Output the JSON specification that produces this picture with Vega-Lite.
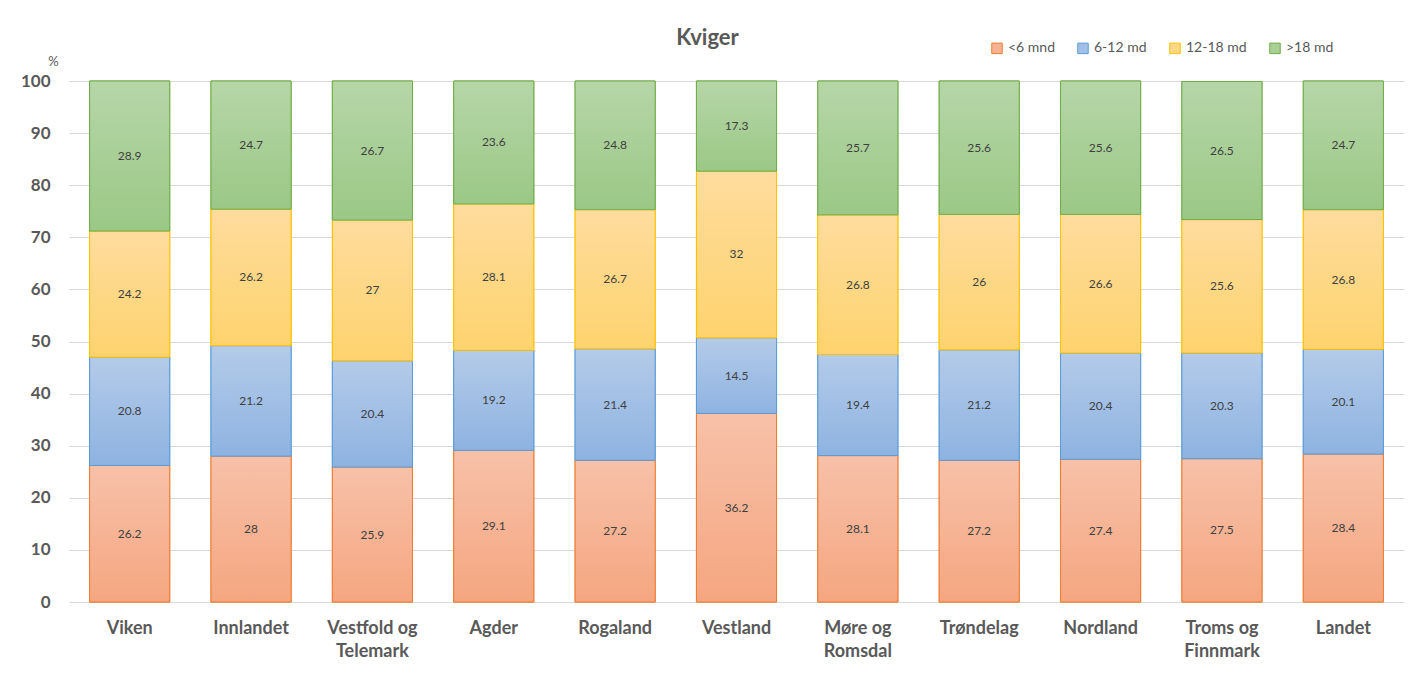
{
  "$schema": "https://vega.github.io/schema/vega-lite/v6.json",
  "width": 1335,
  "height": 521,
  "autosize": {"type": "none"},
  "padding": {"left": 69, "top": 81, "right": 13, "bottom": 71},
  "background": "white",
  "config": {
    "view": {"stroke": null},
    "font": "Lato"
  },
  "title": {
    "text": "Kviger",
    "fontSize": 22,
    "font": "Lato",
    "fontWeight": "bold",
    "color": "#595959",
    "anchor": "middle",
    "dx": -29,
    "offset": -9
  },
  "data": {
    "values": [
      {"region": "Viken", "group": "<6 mnd", "value": 26.2},
      {"region": "Viken", "group": "6-12 md", "value": 20.8},
      {"region": "Viken", "group": "12-18 md", "value": 24.2},
      {"region": "Viken", "group": ">18 md", "value": 28.9},
      {"region": "Innlandet", "group": "<6 mnd", "value": 28},
      {"region": "Innlandet", "group": "6-12 md", "value": 21.2},
      {"region": "Innlandet", "group": "12-18 md", "value": 26.2},
      {"region": "Innlandet", "group": ">18 md", "value": 24.7},
      {"region": "Vestfold og Telemark", "group": "<6 mnd", "value": 25.9},
      {"region": "Vestfold og Telemark", "group": "6-12 md", "value": 20.4},
      {"region": "Vestfold og Telemark", "group": "12-18 md", "value": 27},
      {"region": "Vestfold og Telemark", "group": ">18 md", "value": 26.7},
      {"region": "Agder", "group": "<6 mnd", "value": 29.1},
      {"region": "Agder", "group": "6-12 md", "value": 19.2},
      {"region": "Agder", "group": "12-18 md", "value": 28.1},
      {"region": "Agder", "group": ">18 md", "value": 23.6},
      {"region": "Rogaland", "group": "<6 mnd", "value": 27.2},
      {"region": "Rogaland", "group": "6-12 md", "value": 21.4},
      {"region": "Rogaland", "group": "12-18 md", "value": 26.7},
      {"region": "Rogaland", "group": ">18 md", "value": 24.8},
      {"region": "Vestland", "group": "<6 mnd", "value": 36.2},
      {"region": "Vestland", "group": "6-12 md", "value": 14.5},
      {"region": "Vestland", "group": "12-18 md", "value": 32},
      {"region": "Vestland", "group": ">18 md", "value": 17.3},
      {"region": "Møre og Romsdal", "group": "<6 mnd", "value": 28.1},
      {"region": "Møre og Romsdal", "group": "6-12 md", "value": 19.4},
      {"region": "Møre og Romsdal", "group": "12-18 md", "value": 26.8},
      {"region": "Møre og Romsdal", "group": ">18 md", "value": 25.7},
      {"region": "Trøndelag", "group": "<6 mnd", "value": 27.2},
      {"region": "Trøndelag", "group": "6-12 md", "value": 21.2},
      {"region": "Trøndelag", "group": "12-18 md", "value": 26},
      {"region": "Trøndelag", "group": ">18 md", "value": 25.6},
      {"region": "Nordland", "group": "<6 mnd", "value": 27.4},
      {"region": "Nordland", "group": "6-12 md", "value": 20.4},
      {"region": "Nordland", "group": "12-18 md", "value": 26.6},
      {"region": "Nordland", "group": ">18 md", "value": 25.6},
      {"region": "Troms og Finnmark", "group": "<6 mnd", "value": 27.5},
      {"region": "Troms og Finnmark", "group": "6-12 md", "value": 20.3},
      {"region": "Troms og Finnmark", "group": "12-18 md", "value": 25.6},
      {"region": "Troms og Finnmark", "group": ">18 md", "value": 26.5},
      {"region": "Landet", "group": "<6 mnd", "value": 28.4},
      {"region": "Landet", "group": "6-12 md", "value": 20.1},
      {"region": "Landet", "group": "12-18 md", "value": 26.8},
      {"region": "Landet", "group": ">18 md", "value": 24.7}
    ]
  },
  "transform": [
    {"calculate": "indexof(['<6 mnd','6-12 md','12-18 md','>18 md'], datum.group)", "as": "idx"},
    {"stack": "value", "groupby": ["region"], "sort": [{"field": "idx", "order": "ascending"}], "as": ["y0", "y1"]},
    {"calculate": "(datum.y0 + min(datum.y1, 100)) / 2", "as": "ymid"}
  ],
  "encoding": {
    "x": {
      "field": "region",
      "type": "nominal",
      "sort": null,
      "scale": {"paddingInner": 0.34, "paddingOuter": 0.17},
      "axis": {
        "title": null,
        "labelAngle": 0,
        "domain": false,
        "ticks": false,
        "labelPadding": 17,
        "labelFontSize": 18,
        "labelFont": "Lato",
        "labelFontWeight": "bold",
        "labelColor": "#595959",
        "labelLineHeight": 23,
        "labelBaseline": "top",
        "labelExpr": "indexof(datum.label, ' og ') > 0 ? [substring(datum.label, 0, indexof(datum.label, ' og ') + 3), substring(datum.label, indexof(datum.label, ' og ') + 4)] : datum.label"
      }
    }
  },
  "layer": [
    {
      "mark": {"type": "bar", "strokeWidth": 1},
      "encoding": {
        "y": {
          "field": "y0",
          "type": "quantitative",
          "scale": {"domain": [0, 100], "clamp": true, "nice": false},
          "axis": {
            "title": "%",
            "titleAngle": 0,
            "titleX": -16,
            "titleY": -13,
            "titleAlign": "center",
            "titleBaseline": "bottom",
            "titleFontSize": 13,
            "titleFont": "Lato",
            "titleFontWeight": "normal",
            "titleColor": "#595959",
            "values": [0, 10, 20, 30, 40, 50, 60, 70, 80, 90, 100],
            "domain": false,
            "ticks": false,
            "labelPadding": 19,
            "labelFontSize": 17,
            "labelFont": "Lato",
            "labelFontWeight": "bold",
            "labelColor": "#595959",
            "gridColor": "#d9d9d9",
            "gridWidth": 1
          }
        },
        "y2": {"field": "y1"},
        "fill": {
          "field": "group",
          "type": "nominal",
          "scale": {
            "domain": ["<6 mnd", "6-12 md", "12-18 md", ">18 md"],
            "range": ["#f5b394", "#a2c0e5", "#fed886", "#a9cf97"]
          },
          "legend": {
            "title": null,
            "orient": "none",
            "legendX": 921,
            "legendY": -40,
            "direction": "horizontal",
            "symbolType": "square",
            "symbolSize": 110,
            "symbolStrokeWidth": 1,
            "labelFontSize": 14,
            "labelFont": "Lato",
            "labelColor": "#595959",
            "labelOffset": 4,
            "columnPadding": 20
          }
        },
        "stroke": {
          "field": "group",
          "type": "nominal",
          "scale": {
            "domain": ["<6 mnd", "6-12 md", "12-18 md", ">18 md"],
            "range": ["#ed7d31", "#5b9bd5", "#ffc000", "#70ad47"]
          },
          "legend": {
            "title": null,
            "orient": "none",
            "legendX": 921,
            "legendY": -40,
            "direction": "horizontal",
            "symbolType": "square",
            "symbolSize": 110,
            "symbolStrokeWidth": 1,
            "labelFontSize": 14,
            "labelFont": "Lato",
            "labelColor": "#595959",
            "labelOffset": 4,
            "columnPadding": 20
          }
        }
      }
    },
    {
      "transform": [{"filter": "datum.group === '<6 mnd'"}],
      "mark": {
        "type": "bar",
        "stroke": "#ed7d31",
        "strokeWidth": 1,
        "fill": {"gradient": "linear", "x1": 0, "y1": 0, "x2": 0, "y2": 1, "stops": [{"offset": 0, "color": "#f7c1a9"}, {"offset": 1, "color": "#f5a680"}]}
      },
      "encoding": {
        "y": {"field": "y0", "type": "quantitative"},
        "y2": {"field": "y1"}
      }
    },
    {
      "transform": [{"filter": "datum.group === '6-12 md'"}],
      "mark": {
        "type": "bar",
        "stroke": "#5b9bd5",
        "strokeWidth": 1,
        "fill": {"gradient": "linear", "x1": 0, "y1": 0, "x2": 0, "y2": 1, "stops": [{"offset": 0, "color": "#b4cbe9"}, {"offset": 1, "color": "#8eb3e1"}]}
      },
      "encoding": {
        "y": {"field": "y0", "type": "quantitative"},
        "y2": {"field": "y1"}
      }
    },
    {
      "transform": [{"filter": "datum.group === '12-18 md'"}],
      "mark": {
        "type": "bar",
        "stroke": "#ffc000",
        "strokeWidth": 1,
        "fill": {"gradient": "linear", "x1": 0, "y1": 0, "x2": 0, "y2": 1, "stops": [{"offset": 0, "color": "#fedc9d"}, {"offset": 1, "color": "#fed36e"}]}
      },
      "encoding": {
        "y": {"field": "y0", "type": "quantitative"},
        "y2": {"field": "y1"}
      }
    },
    {
      "transform": [{"filter": "datum.group === '>18 md'"}],
      "mark": {
        "type": "bar",
        "stroke": "#70ad47",
        "strokeWidth": 1,
        "fill": {"gradient": "linear", "x1": 0, "y1": 0, "x2": 0, "y2": 1, "stops": [{"offset": 0, "color": "#b6d6a8"}, {"offset": 1, "color": "#9bc886"}]}
      },
      "encoding": {
        "y": {"field": "y0", "type": "quantitative"},
        "y2": {"field": "y1"}
      }
    },
    {
      "mark": {"type": "text", "fontSize": 12, "font": "Lato", "color": "#404040", "baseline": "middle", "align": "center"},
      "encoding": {
        "y": {"field": "ymid", "type": "quantitative"},
        "text": {"field": "value", "type": "nominal"}
      }
    }
  ]
}
